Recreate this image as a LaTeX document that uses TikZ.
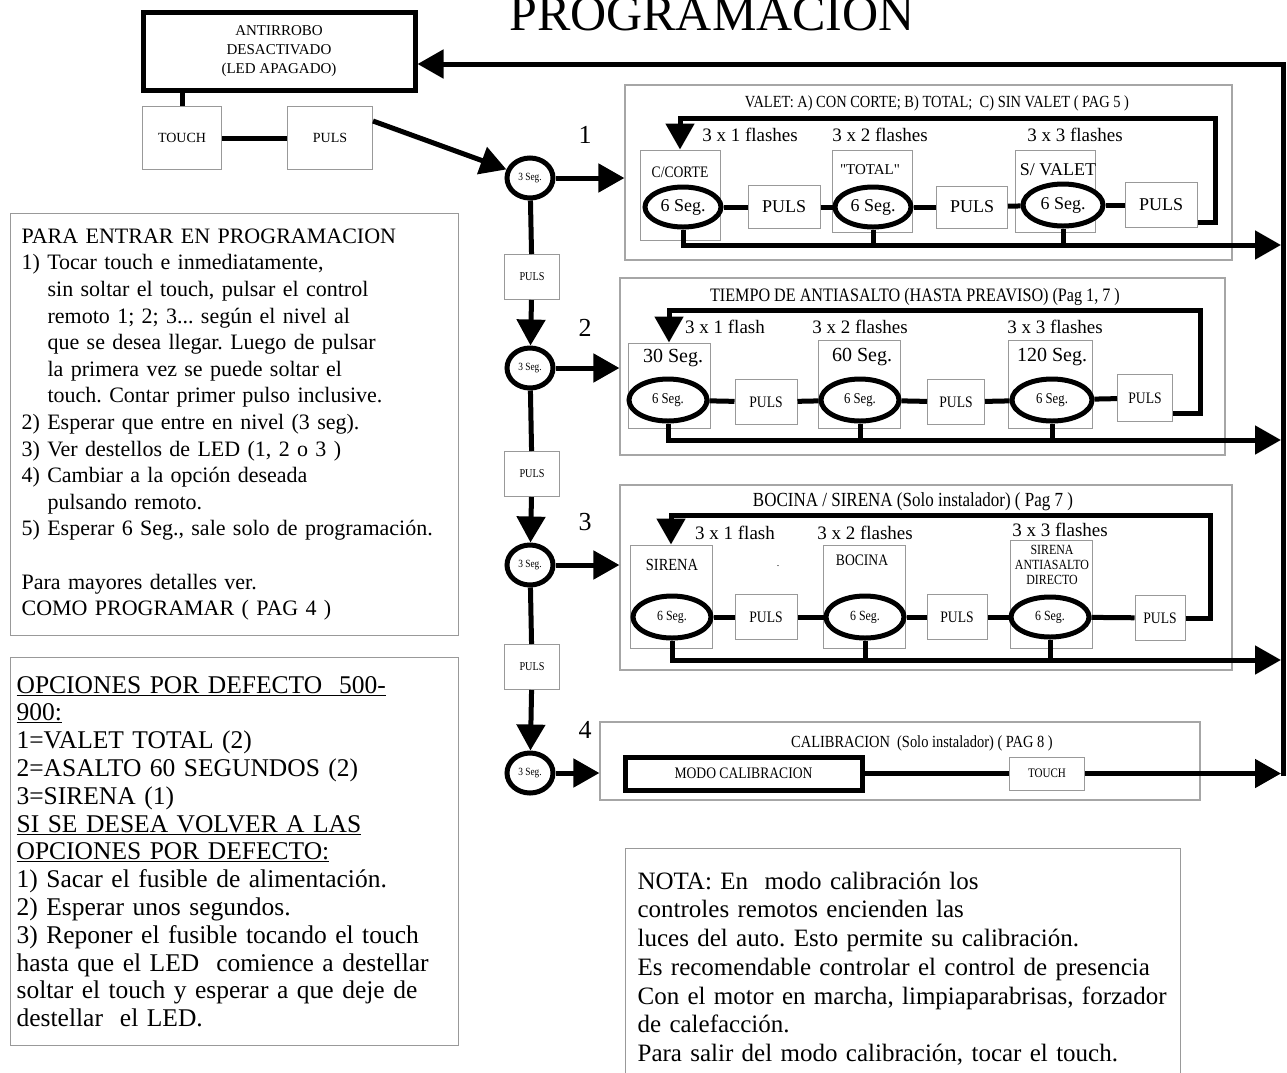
\documentclass[tikz,border=0pt]{standalone}
\usepackage{fontspec}
\setmainfont{Liberation Serif}
\newfontfamily\narrow[FakeStretch=0.85]{Liberation Serif}
\newfontfamily\rawserif[Ligatures=TeXOff]{Liberation Serif}
\usetikzlibrary{shapes.geometric, arrows.meta, calc}
\frenchspacing

\begin{document}
\begin{tikzpicture}[
    x=1pt, y=-1pt,
    wire/.style={line width=5pt},
    arrow/.style={-{Triangle[length=26pt,width=28pt]}, line width=5pt},
    pbox/.style={rectangle, draw=gray!80, line width=1pt, inner sep=0pt, align=center, fill=white},
    optbox/.style={rectangle, draw=gray!80, line width=1pt, inner sep=0pt},
    grpbox/.style={rectangle, draw=gray!70, line width=1.2pt, inner sep=0pt},
    secs/.style={ellipse, draw, line width=5pt, inner sep=0pt, fill=white},
    lvl/.style={secs, minimum width=46, minimum height=40, font=\narrow\fontsize{11}{11}\selectfont},
    cpuls/.style={pbox, minimum width=55, minimum height=45, font=\narrow\fontsize{12}{12}\selectfont},
    txtbox/.style={rectangle, draw=gray!80, line width=1.2pt, align=left, anchor=north west},
    flash/.style={font=\fontsize{19}{19}\selectfont},
    grptitle/.style={font=\narrow\fontsize{#1}{#1}\selectfont},
    num/.style={font=\fontsize{26}{26}\selectfont}
]
    \useasboundingbox (0,0) rectangle (1287,1072);

    % title, cut by the page edge
    \node[font=\fontsize{50}{50}\selectfont, anchor=base] (title) at (712,30) {PROGRAMACION};

    % start
    \node[pbox, draw=black, line width=5pt, minimum width=272, minimum height=78,
          font=\fontsize{15}{19}\selectfont] (antirrobo) at (279,51) {ANTIRROBO\\DESACTIVADO\\(LED APAGADO)};
    \node[pbox, minimum width=79, minimum height=63, font=\fontsize{14}{14}\selectfont] (touch0) at (182,138) {TOUCH};
    \node[pbox, minimum width=85, minimum height=63, font=\fontsize{14}{14}\selectfont] (puls0) at (330,138) {PULS};

    % level chain
    \node[lvl] (s1) at (530,178) {3 Seg.};
    \node[cpuls] (pc1) at (532,277) {PULS};
    \node[lvl] (s2) at (530,368) {3 Seg.};
    \node[cpuls] (pc2) at (532,474) {PULS};
    \node[lvl] (s3) at (530,565) {3 Seg.};
    \node[cpuls] (pc3) at (532,667) {PULS};
    \node[lvl] (s4) at (530,773) {3 Seg.};
    \node[num] (n1) at (585,135) {1};
    \node[num] (n2) at (585,328) {2};
    \node[num] (n3) at (585,522) {3};
    \node[num] (n4) at (585,730) {4};

    % group boxes
    \node[grpbox, minimum width=607, minimum height=175] (grp1) at (928.5,172.5) {};
    \node[grpbox, minimum width=605, minimum height=177] (grp2) at (922.5,366.5) {};
    \node[grpbox, minimum width=612, minimum height=185] (grp3) at (926,577.5) {};
    \node[grpbox, minimum width=600, minimum height=78] (grp4) at (900,761) {};
    \node[grptitle=17] (t1) at (937,103) {VALET: A) CON CORTE; B) TOTAL;\ \ C) SIN VALET ( PAG 5 )};
    \node[grptitle=19] (t2) at (915,297) {TIEMPO DE ANTIASALTO (HASTA PREAVISO) (Pag 1, 7 )};
    \node[grptitle=20] (t3) at (913,502) {BOCINA / SIRENA (Solo instalador) ( Pag 7 )};
    \node[grptitle=17] (t4) at (922,743) {CALIBRACION\ \ (Solo instalador) ( PAG 8 )};

    % valet
    \node[optbox, minimum width=80, minimum height=90] (o11) at (680,195) {};
    \node[optbox, minimum width=80, minimum height=82] (o12) at (872,191) {};
    \node[optbox, minimum width=80, minimum height=82] (o13) at (1055,191) {};
    \node[font=\narrow\fontsize{16}{16}\selectfont] (l11) at (680,172) {C/CORTE};
    \node[font=\rawserif\fontsize{15}{15}\selectfont] (l12) at (870,170) {"TOTAL"};
    \node[font=\fontsize{18}{18}\selectfont] (l13) at (1058,170) {S/ VALET};
    \node[flash] (f11) at (750,135) {3 x 1 flashes};
    \node[flash] (f12) at (880,135) {3 x 2 flashes};
    \node[flash] (f13) at (1075,135) {3 x 3 flashes};
    \node[secs, minimum width=76, minimum height=40, font=\fontsize{18}{18}\selectfont] (e11) at (683,207) {6 Seg.};
    \node[secs, minimum width=76, minimum height=40, font=\fontsize{18}{18}\selectfont] (e12) at (873,207) {6 Seg.};
    \node[secs, minimum width=80, minimum height=42, font=\fontsize{18}{18}\selectfont] (e13) at (1063,205) {6 Seg.};
    \node[pbox, minimum width=72, minimum height=43, font=\fontsize{18}{18}\selectfont] (p11) at (784,207) {PULS};
    \node[pbox, minimum width=71, minimum height=42, font=\fontsize{18}{18}\selectfont] (p12) at (972,207) {PULS};
    \node[pbox, minimum width=72, minimum height=45, font=\fontsize{18}{18}\selectfont] (p13) at (1161,205) {PULS};

    % antiasalto
    \node[optbox, minimum width=82, minimum height=85] (o21) at (669,385.5) {};
    \node[optbox, minimum width=82, minimum height=88] (o22) at (859,384) {};
    \node[optbox, minimum width=84, minimum height=88] (o23) at (1050,384) {};
    \node[font=\fontsize{20}{20}\selectfont] (l21) at (673,358) {30 Seg.};
    \node[font=\fontsize{20}{20}\selectfont] (l22) at (862,357) {60 Seg.};
    \node[font=\fontsize{20}{20}\selectfont] (l23) at (1052,357) {120 Seg.};
    \node[flash] (f21) at (725,327) {3 x 1 flash};
    \node[flash] (f22) at (860,327) {3 x 2 flashes};
    \node[flash] (f23) at (1055,327) {3 x 3 flashes};
    \node[secs, minimum width=78, minimum height=42, font=\narrow\fontsize{15}{15}\selectfont] (e21) at (668,400) {6 Seg.};
    \node[secs, minimum width=78, minimum height=42, font=\narrow\fontsize{15}{15}\selectfont] (e22) at (860,400) {6 Seg.};
    \node[secs, minimum width=80, minimum height=42, font=\narrow\fontsize{15}{15}\selectfont] (e23) at (1052,400) {6 Seg.};
    \node[pbox, minimum width=62, minimum height=45, font=\narrow\fontsize{16}{16}\selectfont] (p21) at (766,402) {PULS};
    \node[pbox, minimum width=57, minimum height=45, font=\narrow\fontsize{16}{16}\selectfont] (p22) at (956,402) {PULS};
    \node[pbox, minimum width=55, minimum height=47, font=\narrow\fontsize{16}{16}\selectfont] (p23) at (1145,398) {PULS};

    % bocina / sirena
    \node[optbox, minimum width=82, minimum height=103] (o31) at (671,596.5) {};
    \node[optbox, minimum width=82, minimum height=103] (o32) at (864,596.5) {};
    \node[optbox, minimum width=82, minimum height=108] (o33) at (1051,594) {};
    \node[font=\narrow\fontsize{17}{17}\selectfont] (l31) at (672,565) {SIRENA};
    \node[font=\narrow\fontsize{16}{16}\selectfont] (l32) at (862,560) {BOCINA};
    \node[font=\narrow\fontsize{14}{15}\selectfont, align=center] (l33) at (1052,565) {SIRENA\\ANTIASALTO\\DIRECTO};
    \node (dot) at (778,566) {.};
    \node[flash] (f31) at (735,533) {3 x 1 flash};
    \node[flash] (f32) at (865,533) {3 x 2 flashes};
    \node[flash] (f33) at (1060,530) {3 x 3 flashes};
    \node[secs, minimum width=78, minimum height=42, font=\narrow\fontsize{14}{14}\selectfont] (e31) at (672,617) {6 Seg.};
    \node[secs, minimum width=78, minimum height=42, font=\narrow\fontsize{14}{14}\selectfont] (e32) at (865,617) {6 Seg.};
    \node[secs, minimum width=78, minimum height=40, font=\narrow\fontsize{14}{14}\selectfont] (e33) at (1050,617) {6 Seg.};
    \node[pbox, minimum width=62, minimum height=45, font=\narrow\fontsize{16}{16}\selectfont] (p31) at (766,617) {PULS};
    \node[pbox, minimum width=60, minimum height=45, font=\narrow\fontsize{16}{16}\selectfont] (p32) at (957,617) {PULS};
    \node[pbox, minimum width=50, minimum height=45, font=\narrow\fontsize{16}{16}\selectfont] (p33) at (1160,618) {PULS};

    % calibracion
    \node[pbox, draw=black, line width=5pt, minimum width=237, minimum height=33,
          font=\narrow\fontsize{16}{16}\selectfont] (modo) at (743.5,773.5) {MODO CALIBRACION};
    \node[pbox, minimum width=75, minimum height=33, font=\narrow\fontsize{13}{13}\selectfont] (touch4) at (1047,773.5) {TOUCH};

    % return line
    \coordinate (tr) at (1283,64);
    \coordinate (bt) at (1283,776);
    \coordinate (end1) at (1281,245);
    \coordinate (end2) at (1281,440);
    \coordinate (end3) at (1281,660);
    \coordinate (lp1) at (1215,118);
    \coordinate (lp2) at (1200,310);
    \coordinate (lp3) at (1210,515);

    \draw[wire] (antirrobo.south -| touch0) -- (touch0);
    \draw[wire] (touch0) -- (puls0);
    \draw[arrow] ([yshift=-15pt]puls0.north east) -- (s1);
    \draw[arrow] (s1) -- (s1 -| grp1.west);
    \draw[wire] (s1) -- (pc1);
    \draw[arrow] (pc1) -- (s2);
    \draw[arrow] (s2) -- (s2 -| grp2.west);
    \draw[wire] (s2) -- (pc2);
    \draw[arrow] (pc2) -- (s3);
    \draw[arrow] (s3) -- (s3 -| grp3.west);
    \draw[wire] (s3) -- (pc3);
    \draw[arrow] (pc3) -- (s4);
    \draw[arrow] (s4) -- (s4 -| grp4.west);

    \draw[wire] (e11) -- (p11);
    \draw[wire] (p11) -- (e12);
    \draw[wire] (e12) -- (p12);
    \draw[wire] (p12) -- (e13);
    \draw[wire] (e13) -- (p13);
    \draw[arrow] ([yshift=6pt]p13.south east) -| (lp1) -| (o11.north);
    \draw[arrow] (e11.south) |- (end1);
    \draw[wire] (e12.south) -- (e12.south |- end1);
    \draw[wire] (e13.south) -- (e13.south |- end1);

    \draw[wire] (e21) -- (p21);
    \draw[wire] (p21) -- (e22);
    \draw[wire] (e22) -- (p22);
    \draw[wire] (p22) -- (e23);
    \draw[wire] (e23) -- (p23);
    \draw[arrow] ([yshift=9pt]p23.south east) -| (lp2) -| (o21.north);
    \draw[arrow] (e21.south) |- (end2);
    \draw[wire] (e22.south) -- (e22.south |- end2);
    \draw[wire] (e23.south) -- (e23.south |- end2);

    \draw[wire] (e31) -- (p31);
    \draw[wire] (p31) -- (e32);
    \draw[wire] (e32) -- (p32);
    \draw[wire] (p32) -- (e33);
    \draw[wire] (e33) -- (p33);
    \draw[arrow] (p33.east) -| (lp3) -| (o31.north);
    \draw[arrow] (e31.south) |- (end3);
    \draw[wire] (e32.south) -- (e32.south |- end3);
    \draw[wire] (e33.south) -- (e33.south |- end3);

    \draw[wire] (modo) -- (touch4);
    \draw[arrow] (touch4.east) -- (touch4.east -| end1);
    \draw[arrow] (bt) -- (tr) -- (tr -| antirrobo.east);

    % notes
    \node[txtbox, inner xsep=11pt, text width=426, minimum height=422,
          font=\fontsize{22}{26.6}\selectfont] (howto) at (10,213) {%
        PARA ENTRAR EN PROGRAMACION\\
        1) Tocar touch e inmediatamente,\\
        \hspace*{26pt}sin soltar el touch, pulsar el control\\
        \hspace*{26pt}remoto 1; 2; 3... según el nivel al\\
        \hspace*{26pt}que se desea llegar. Luego de pulsar\\
        \hspace*{26pt}la primera vez se puede soltar el\\
        \hspace*{26pt}touch. Contar primer pulso inclusive.\\
        2) Esperar que entre en nivel (3 seg).\\
        3) Ver destellos de LED (1, 2 o 3 )\\
        4) Cambiar a la opción deseada\\
        \hspace*{26pt}pulsando remoto.\\
        5) Esperar 6 Seg., sale solo de programación.\\[26.6pt]
        Para mayores detalles ver.\\
        COMO PROGRAMAR ( PAG 4 )};
    \node[txtbox, inner xsep=6pt, text width=436, minimum height=388,
          font=\fontsize{25.5}{27.8}\selectfont] (defaults) at (10,657) {%
        \underline{OPCIONES POR DEFECTO\ \ 500-}\\
        \underline{900:}\\
        1=VALET TOTAL (2)\\
        2=ASALTO 60 SEGUNDOS (2)\\
        3=SIRENA (1)\\
        \underline{SI SE DESEA VOLVER A LAS}\\
        \underline{OPCIONES POR DEFECTO:}\\
        1) Sacar el fusible de alimentación.\\
        2) Esperar unos segundos.\\
        3) Reponer el fusible tocando el touch\\
        hasta que el LED\ \ comience a destellar\\
        soltar el touch y esperar a que deje de\\
        destellar\ \ el LED.};
    \node[txtbox, inner xsep=12pt, text width=531, minimum height=240,
          font=\fontsize{25}{28.7}\selectfont] (nota) at (625,848) {%
        NOTA: En\ \ modo calibración los\\
        controles remotos encienden las\\
        luces del auto. Esto permite su calibración.\\
        Es recomendable controlar el control de presencia\\
        Con el motor en marcha, limpiaparabrisas, forzador\\
        de calefacción.\\
        Para salir del modo calibración, tocar el touch.};
\end{tikzpicture}
\end{document}
